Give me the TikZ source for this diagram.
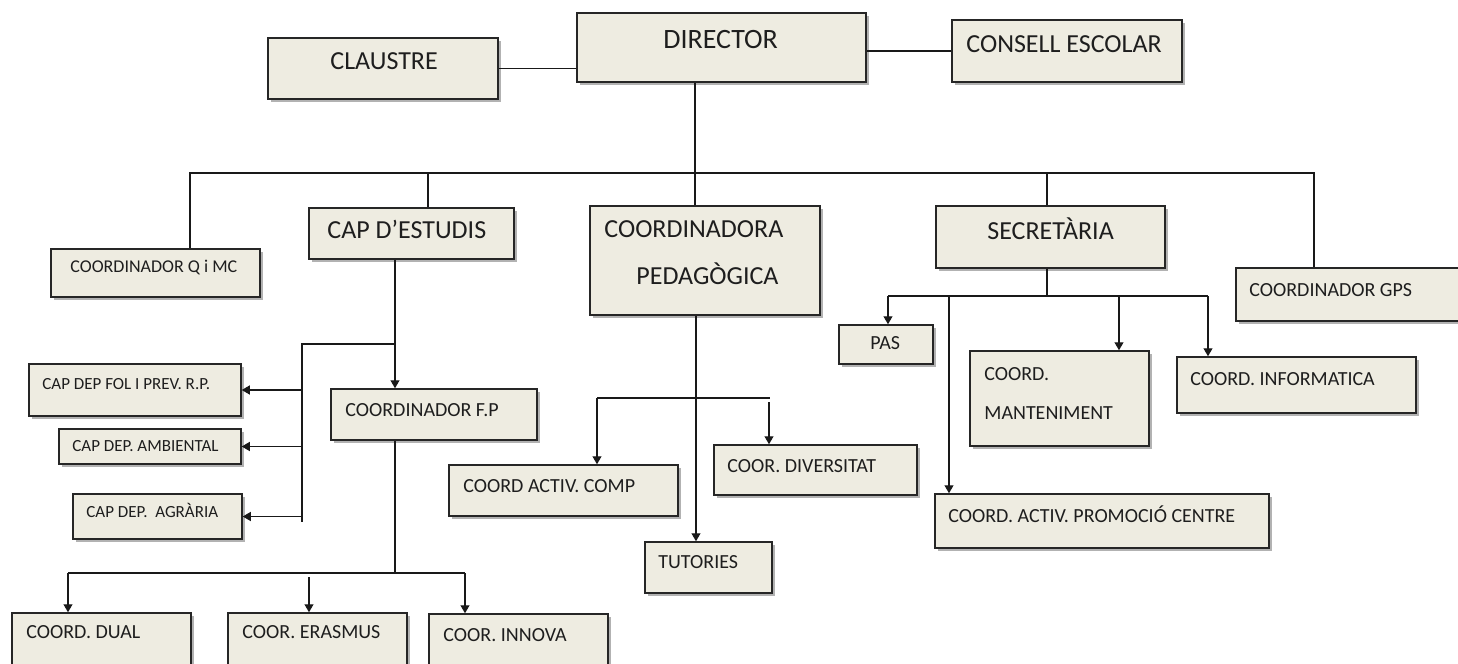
\documentclass[tikz,border=0pt]{standalone}
\usepackage{fontspec}
\setmainfont{Carlito}
\usetikzlibrary{arrows.meta,shadows,fit}
\definecolor{boxfill}{HTML}{EEECE1}
\definecolor{txt}{HTML}{1E1E1E}
\tikzset{
  orgbox/.style={draw=black!85, fill=boxfill, line width=0.75pt, inner sep=0pt,
    drop shadow={shadow xshift=1.3pt, shadow yshift=-1.3pt, fill=black!60}},
  lbl/.style={anchor=base west, inner sep=0pt, text=txt},
  big/.style={lbl, font=\fontsize{13}{15}\selectfont},
  mid/.style={lbl, font=\fontsize{10}{12}\selectfont},
  small/.style={lbl, font=\fontsize{8.5}{10}\selectfont},
  link/.style={draw=black!90, line width=0.6pt},
  arr/.style={link, -{Triangle[length=4pt, width=4.5pt]}}
}
\begin{document}
\begin{tikzpicture}[x=0.5pt, y=-0.5pt]
    \clip (0,0) rectangle (1458,664);
    % top level
    \node[orgbox, fit={(268,38) (498,99)}] (claustre) {};
    \node[orgbox, fit={(577,13) (866,82)}] (director) {};
    \node[orgbox, fit={(952,20) (1182,82)}] (consell) {};
    \node[big] (claustre-t) at (330,69) {CLAUSTRE};
    \node[big, font=\fontsize{14}{16}\selectfont] (director-t) at (663,48) {DIRECTOR};
    \node[big] (consell-t) at (966,53) {CONSELL ESCOLAR};
    % second level
    \node[orgbox, fit={(51,249) (260,297)}] (qimc) {};
    \node[orgbox, fit={(309,208) (514,259)}] (capest) {};
    \node[orgbox, fit={(590,206) (820,315)}] (coordped) {};
    \node[orgbox, fit={(936,206) (1165,268)}] (secret) {};
    \node[orgbox, fit={(1236,268) (1462,321)}] (gps) {};
    \node[mid, font=\fontsize{9}{11}\selectfont] (qimc-t) at (70,272) {COORDINADOR Q i MC};
    \node[big] (capest-t) at (327,238) {CAP D’ESTUDIS};
    \node[big] (coordped-t) at (604,237) {COORDINADORA};
    \node[big] (coordped-t2) at (636,284) {PEDAGÒGICA};
    \node[big] (secret-t) at (987,239) {SECRETÀRIA};
    \node[mid] (gps-t) at (1249,296) {COORDINADOR GPS};
    % cap d'estudis branch
    \node[orgbox, fit={(29,364) (241,416)}] (fol) {};
    \node[orgbox, fit={(59,429) (241,464)}] (ambient) {};
    \node[orgbox, fit={(73,494) (242,539)}] (agraria) {};
    \node[orgbox, fit={(331,389) (537,440)}] (coordfp) {};
    \node[orgbox, fit={(12,613) (191,680)}] (dual) {};
    \node[orgbox, fit={(228,613) (407,680)}] (erasmus) {};
    \node[orgbox, fit={(429,614) (608,680)}] (innova) {};
    \node[small] (fol-t) at (42,389) {CAP DEP FOL I PREV. R.P.};
    \node[small] (ambient-t) at (72,451) {CAP DEP. AMBIENTAL};
    \node[small] (agraria-t) at (86,517) {CAP DEP.\ \ AGRÀRIA};
    \node[mid] (coordfp-t) at (345,416) {COORDINADOR F.P};
    \node[mid] (dual-t) at (26,638) {COORD. DUAL};
    \node[mid] (erasmus-t) at (242,638) {COOR. ERASMUS};
    \node[mid] (innova-t) at (443,641) {COOR. INNOVA};
    % coordinadora branch
    \node[orgbox, fit={(449,465) (678,516)}] (activcomp) {};
    \node[orgbox, fit={(714,445) (917,495)}] (diversitat) {};
    \node[orgbox, fit={(645,542) (772,593)}] (tutories) {};
    \node[mid] (activcomp-t) at (463,492) {COORD ACTIV. COMP};
    \node[mid] (diversitat-t) at (727,472) {COOR. DIVERSITAT};
    \node[mid] (tutories-t) at (658,568) {TUTORIES};
    % secretaria branch
    \node[orgbox, fit={(839,325) (933,364)}] (pas) {};
    \node[orgbox, fit={(970,351) (1149,446)}] (manten) {};
    \node[orgbox, fit={(1177,357) (1416,413)}] (informatica) {};
    \node[orgbox, fit={(935,494) (1269,548)}] (promocio) {};
    \node[mid] (pas-t) at (870,349) {PAS};
    \node[mid] (manten-t) at (984,380) {COORD.};
    \node[mid] (manten-t2) at (984,419) {MANTENIMENT};
    \node[mid] (informatica-t) at (1190,385) {COORD. INFORMATICA};
    \node[mid] (promocio-t) at (948,522) {COORD. ACTIV. PROMOCIÓ CENTRE};
    % junctions
    \coordinate (bus) at (695,173);
    \coordinate (busL) at (190,173);
    \coordinate (busR) at (1314,173);
    \coordinate (capdrop) at (428,173);
    \coordinate (secdrop) at (1047,173);
    \coordinate (fpjoin) at (395,344);
    \coordinate (trunk) at (302,344);
    \coordinate (trunkB) at (302,522);
    \coordinate (fpbus) at (395,573);
    \coordinate (fpL) at (68,573);
    \coordinate (fpR) at (465,573);
    \coordinate (erasj) at (309,577);
    \coordinate (pedbus) at (696,398);
    \coordinate (pedL) at (597,398);
    \coordinate (pedR) at (770,398);
    \coordinate (divj) at (769,402);
    \coordinate (secbus) at (1047,296);
    \coordinate (secL) at (888,296);
    \coordinate (secR) at (1208,296);
    \coordinate (promj) at (949,296);
    \coordinate (mantj) at (1119,296);
    % connectors
    \draw[link] (claustre.east) -- (claustre.east -| director.west);
    \draw[link] (consell.west) -- (consell.west -| director.east);
    \draw[link] (director.south -| bus) -- (bus);
    \draw[link] (qimc.north -| busL) -- (busL) -- (busR) -- (gps.north -| busR);
    \draw[link] (capdrop) -- (capest.north -| capdrop);
    \draw[link] (bus) -- (coordped.north -| bus);
    \draw[link] (secdrop) -- (secret.north -| secdrop);
    \draw[arr] (capest.south -| fpjoin) -- (coordfp.north -| fpjoin);
    \draw[link] (fpjoin) -- (trunk) -- (trunkB);
    \draw[arr] (fol.east -| trunk) -- (fol.east);
    \draw[arr] (ambient.east -| trunk) -- (ambient.east);
    \draw[arr] (agraria.east -| trunk) -- (agraria.east);
    \draw[link] (coordfp.south -| fpbus) -- (fpbus);
    \draw[link] (fpL) -- (fpR);
    \draw[arr] (fpL) -- (dual.north -| fpL);
    \draw[arr] (erasj) -- (erasmus.north -| erasj);
    \draw[arr] (fpR) -- (innova.north -| fpR);
    \draw[arr] (coordped.south -| pedbus) -- (tutories.north -| pedbus);
    \draw[link] (pedL) -- (pedR);
    \draw[arr] (pedL) -- (activcomp.north -| pedL);
    \draw[arr] (divj) -- (diversitat.north -| divj);
    \draw[link] (secret.south -| secbus) -- (secbus);
    \draw[link] (secL) -- (secR);
    \draw[arr] (secL) -- (pas.north -| secL);
    \draw[arr] (promj) -- (promocio.north -| promj);
    \draw[arr] (mantj) -- (manten.north -| mantj);
    \draw[arr] (secR) -- (informatica.north -| secR);
\end{tikzpicture}
\end{document}
